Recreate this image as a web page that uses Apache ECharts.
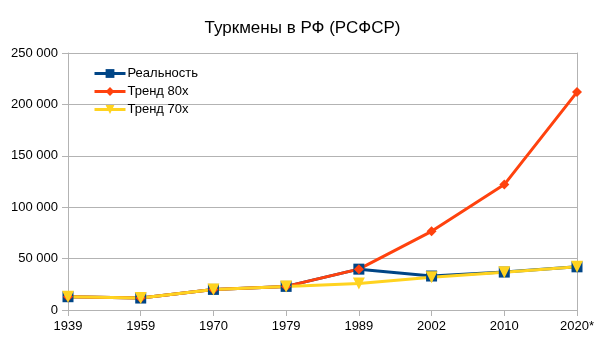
<!DOCTYPE html>
<html>
<head>
<meta charset="utf-8">
<script src="https://cdn.jsdelivr.net/npm/echarts@6/dist/echarts.min.js"></script>
<style>
html, body { margin: 0; padding: 0; background: #fff; }
#chart { width: 605px; height: 340px; }
</style>
</head>
<body>
<div id="chart"></div>
<script>
// Census years and population figures
const years = ['1939', '1959', '1970', '1979', '1989', '2002', '2010', '2020*'];
const actual = [12922, 11631, 20040, 22979, 39739, 33053, 36885, 42000];
const trend80 = [12922, 11631, 20040, 22979, 39739, 76500, 122000, 212000];
const trend70 = [12922, 11631, 20040, 22979, 25800, 31800, 36700, 42100];
const yTicks = [0, 50000, 100000, 150000, 200000, 250000];

const FONT = '"Liberation Sans", Arial, sans-serif';
const GRID = '#b3b3b3';

function fmt(v) {
  return String(v).replace(/\B(?=(\d{3})+(?!\d))/g, ' ');
}

function lineSeries(name, data, color, symbol, size) {
  return {
    name: name,
    type: 'line',
    data: data,
    symbol: symbol,
    symbolSize: size,
    lineStyle: { color: color, width: 3 },
    itemStyle: { color: color },
    emphasis: { disabled: true },
    animation: false
  };
}

const chart = echarts.init(document.getElementById('chart'));
chart.setOption({
  animation: false,
  title: {
    text: 'Туркмены в РФ (РСФСР)',
    left: 'center',
    top: 15,
    textStyle: { fontFamily: FONT, fontSize: 17, fontWeight: 'normal', color: '#000' }
  },
  legend: {
    orient: 'vertical',
    left: 88,
    top: 62,
    itemWidth: 31,
    itemHeight: 11,
    itemGap: 5,
    lineStyle: { width: 3 },
    textStyle: { fontFamily: FONT, fontSize: 13, color: '#000', padding: [0, 0, 0, -3] },
    data: ['Реальность', 'Тренд 80х', 'Тренд 70х']
  },
  grid: { left: 68, right: 28, top: 53, bottom: 30 },
  xAxis: {
    type: 'category',
    data: years,
    boundaryGap: false,
    axisLine: { lineStyle: { color: GRID, width: 1 } },
    axisTick: { show: true, length: 6, lineStyle: { color: GRID } },
    axisLabel: { fontFamily: FONT, fontSize: 13, color: '#000', margin: 10 },
    splitLine: { show: false }
  },
  yAxis: [{
    type: 'value',
    min: yTicks[0],
    max: yTicks[yTicks.length - 1],
    interval: 50000,
    axisLine: { show: true, lineStyle: { color: GRID } },
    axisTick: { show: true, length: 6, lineStyle: { color: GRID } },
    axisLabel: { fontFamily: FONT, fontSize: 13, color: '#000', margin: 10, formatter: fmt },
    splitLine: { show: true, lineStyle: { color: GRID, width: 1 } }
  }, {
    type: 'value',
    position: 'right',
    min: yTicks[0],
    max: yTicks[yTicks.length - 1],
    interval: 50000,
    axisLine: { show: true, lineStyle: { color: GRID } },
    axisTick: { show: false },
    axisLabel: { show: false },
    splitLine: { show: false }
  }],
  series: [
    lineSeries('Реальность', actual, '#004586', 'rect', 11),
    lineSeries('Тренд 80х', trend80, '#ff420e', 'diamond', 10),
    Object.assign(lineSeries('Тренд 70х', trend70, '#ffd320', 'triangle', 12), { symbolRotate: 180 })
  ]
});
</script>
</body>
</html>
